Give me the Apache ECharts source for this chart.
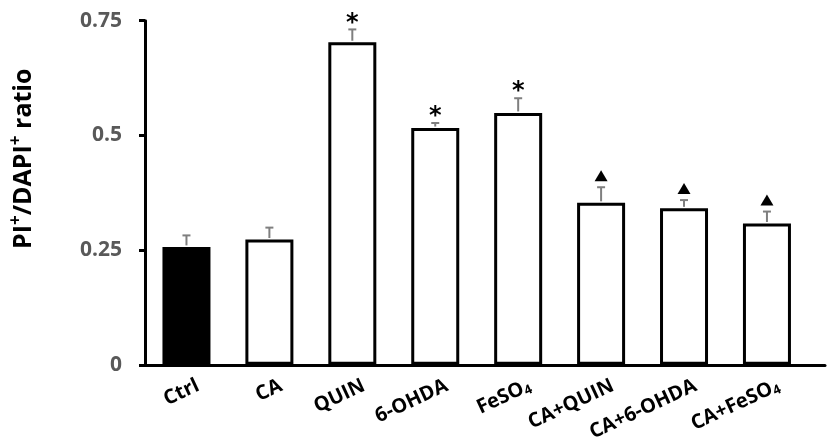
<!DOCTYPE html>
<html><head><meta charset="utf-8">
<script src="https://cdn.jsdelivr.net/npm/echarts@6/dist/echarts.min.js"></script>
<style>html,body{margin:0;padding:0;background:#fff}#c{width:830px;height:444px}</style>
</head><body><div id="c"></div>
<script>
const categories = ['Ctrl','CA','QUIN','6-OHDA','FeSO4','CA+QUIN','CA+6-OHDA','CA+FeSO4'];
const means = [0.257, 0.273, 0.703, 0.516, 0.549, 0.353, 0.341, 0.308];
const errors = [0.025, 0.026, 0.028, 0.011, 0.032, 0.034, 0.018, 0.026];
const marks = ['', '', '*', '*', '*', '▲', '▲', '▲'];
const yTicks = [0, 0.25, 0.5, 0.75];
const yName = 'PI{sup|+}/DAPI{sup|+} ratio';

const FONT = '"Open Sans", "DejaVu Sans", sans-serif';
const chart = echarts.init(document.getElementById('c'), null, {renderer: 'canvas'});

const barData = means.map((v, i) => ({
  value: [i, v],
  itemStyle: {color: i === 0 ? '#000' : '#fff', borderColor: '#000', borderWidth: 3}
}));
const errData = means.map((v, i) => [i, v, errors[i], i]);

function labelText(name) {
  const m = name.match(/^(.*SO)4$/);
  return m ? '{m|' + m[1] + '}{sub|4}' : '{m|' + name + '}';
}

chart.setOption({
  animation: false,
  grid: {left: 141, right: 5, top: 20.7, bottom: 78.3, containLabel: false},
  xAxis: {
    type: 'value', min: -0.5, max: 7.7,
    axisLine: {show: true, onZero: false, lineStyle: {color: '#000', width: 3}},
    axisTick: {show: false},
    splitLine: {show: false},
    axisLabel: {
      customValues: categories.map((_, i) => i + 0.14),
      rotate: 25, margin: 20,
      color: '#000', fontWeight: 'bold', fontSize: 20, fontFamily: FONT,
      formatter: v => labelText(categories[Math.round(v - 0.14)] || ''),
      rich: {
        m: {fontSize: 20, fontWeight: 'bold', fontFamily: FONT, color: '#000'},
        sub: {fontSize: 13, fontWeight: 'bold', fontFamily: FONT, color: '#000', padding: [9, 0, 0, 0]}
      }
    }
  },
  yAxis: {
    type: 'value', min: 0, max: 0.75, interval: 0.25,
    name: yName, nameLocation: 'middle', nameRotate: 90, nameGap: 106,
    nameTextStyle: {
      color: '#000', fontWeight: 'bold', fontSize: 25, fontFamily: FONT,
      padding: [0, 0, 0, 68],
      rich: {sup: {fontSize: 17, fontWeight: 'bold', fontFamily: FONT, color: '#000', padding: [0, 0, 14, 0]}}
    },
    axisLine: {show: true, onZero: false, lineStyle: {color: '#000', width: 3}},
    axisTick: {show: true, length: 6, lineStyle: {color: '#000', width: 3}},
    splitLine: {show: false},
    axisLabel: {
      margin: 23, color: '#595959', fontWeight: 'bold', fontSize: 21, fontFamily: FONT,
      formatter: v => { const t = yTicks.find(t => Math.abs(t - v) < 1e-9); return t === undefined ? '' : '{n|' + t + '}'; },
      rich: {n: {fontSize: 21, fontWeight: 'bold', fontFamily: FONT, color: '#595959'}}
    }
  },
  series: [
    {
      type: 'bar', data: barData, barWidth: 48, z: 2
    },
    {
      type: 'custom', z: 3, data: errData,
      renderItem: (params, api) => {
        const x = api.value(0), m = api.value(1), e = api.value(2), idx = api.value(3);
        const top = api.coord([x, m + e]);
        const base = api.coord([x, m]);
        const children = [
          {type: 'line', shape: {x1: top[0], y1: base[1] - 1.5, x2: top[0], y2: top[1]}, style: {stroke: '#7f7f7f', lineWidth: 2}},
          {type: 'line', shape: {x1: top[0] - 4, y1: top[1], x2: top[0] + 4, y2: top[1]}, style: {stroke: '#7f7f7f', lineWidth: 2}}
        ];
        const mk = marks[idx];
        if (mk === '*') {
          children.push({type: 'text', x: top[0], y: top[1] + 6, style: {
            text: '*', fill: '#000', font: 'bold 24px "DejaVu Sans", sans-serif', align: 'center', verticalAlign: 'bottom'
          }});
        } else if (mk === '▲') {
          const cy = top[1] - 11;
          children.push({type: 'polygon', shape: {points: [[top[0], cy - 6], [top[0] - 6.5, cy + 5], [top[0] + 6.5, cy + 5]]}, style: {fill: '#000'}});
        }
        return {type: 'group', children};
      }
    }
  ]
});
</script>
</body></html>
